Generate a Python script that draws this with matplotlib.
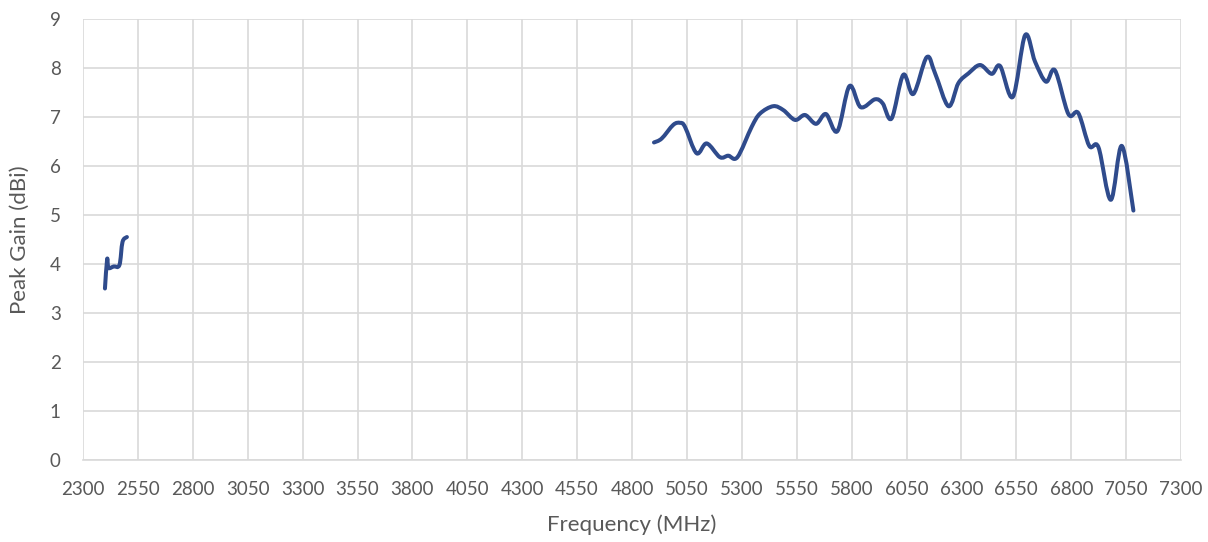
import numpy as np
import matplotlib.pyplot as plt
from matplotlib.path import Path
from matplotlib.patches import PathPatch

# low band (2.4 GHz)
freq_low = [2400, 2410, 2416, 2440, 2466, 2480, 2500]
gain_low = [3.50, 4.10, 3.92, 3.95, 3.98, 4.45, 4.55]

# high band (5-7 GHz)
freq_high = [4900, 4935, 4988, 5019, 5041, 5094, 5140, 5200, 5238, 5280,
             5345, 5383, 5443, 5489, 5542, 5588, 5638, 5683, 5735, 5790,
             5841, 5906, 5941, 5982, 6035, 6081, 6142, 6180, 6241, 6286,
             6332, 6385, 6438, 6476, 6534, 6590, 6635, 6685, 6726, 6787,
             6832, 6882, 6924, 6980, 7030, 7083]
gain_high = [6.48, 6.56, 6.84, 6.88, 6.80, 6.26, 6.46, 6.18, 6.21, 6.18,
             6.80, 7.07, 7.22, 7.14, 6.94, 7.04, 6.86, 7.06, 6.71, 7.63,
             7.20, 7.36, 7.28, 6.97, 7.86, 7.47, 8.22, 7.89, 7.22, 7.69,
             7.89, 8.06, 7.88, 8.04, 7.41, 8.67, 8.13, 7.72, 7.95, 7.06,
             7.08, 6.41, 6.38, 5.31, 6.41, 5.09]

x_ticks = list(range(2300, 7301, 250))
y_ticks = list(range(0, 10))

LINE = '#2f4b8c'
GRID = '#d9d9d9'
TEXT = '#595959'


def smooth_path(xs, ys):
    # Excel-style smoothed line: cubic Bezier segments (Catmull-Rom, tension 1/6)
    pts = np.column_stack([xs, ys]).astype(float)
    verts = [pts[0]]
    codes = [Path.MOVETO]
    n = len(pts)
    for i in range(n - 1):
        p0 = pts[i - 1] if i > 0 else pts[i]
        p1 = pts[i]
        p2 = pts[i + 1]
        p3 = pts[i + 2] if i + 2 < n else pts[i + 1]
        c1 = p1 + (p2 - p0) / 6.0
        c2 = p2 - (p3 - p1) / 6.0
        verts += [c1, c2, p2]
        codes += [Path.CURVE4] * 3
    return Path(verts, codes)


plt.rcParams['font.family'] = ['Lato', 'DejaVu Sans']

fig = plt.figure(figsize=(12.08, 5.42), dpi=100)
ax = fig.add_axes([0.0687, 0.1513, 0.909, 0.8137])

for xs, ys in [(freq_low, gain_low), (freq_high, gain_high)]:
    ax.add_patch(PathPatch(smooth_path(xs, ys), facecolor='none', edgecolor=LINE,
                           lw=2.9, capstyle='round', joinstyle='round', zorder=3))

ax.set_xlim(2300, 7300)
ax.set_ylim(0, 9)
ax.set_xticks(x_ticks)
ax.set_yticks(y_ticks)
ax.grid(True, color=GRID, lw=1.2)
ax.set_axisbelow(True)
for s in ['top', 'right', 'left']:
    ax.spines[s].set_visible(False)
ax.spines['bottom'].set_color(GRID)
ax.spines['bottom'].set_linewidth(1.2)
ax.tick_params(length=0, labelsize=13.5, colors=TEXT)
ax.tick_params(axis='x', pad=15)
ax.tick_params(axis='y', pad=16)
ax.set_xlabel('Frequency (MHz)', fontsize=16, color=TEXT, labelpad=12)
ax.set_ylabel('Peak Gain (dBi)', fontsize=16, color=TEXT, labelpad=14)

fig.savefig('out.png', dpi=100)
